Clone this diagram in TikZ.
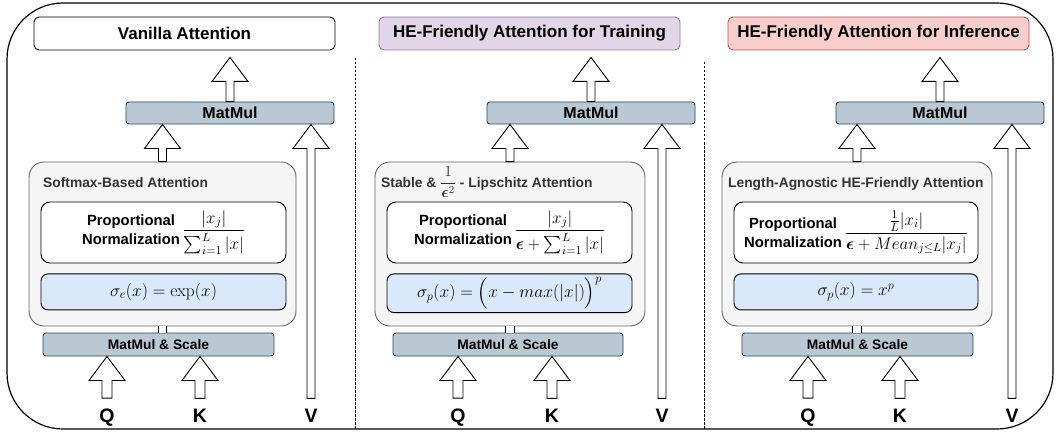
\RequirePackage{fix-cm}
\documentclass[tikz,border=0pt]{standalone}
\usepackage{amsmath,bm}
\usepackage[no-math]{fontspec}
\setmainfont{Liberation Sans}
\usepackage{tikz}
\usetikzlibrary{calc,positioning}

\definecolor{mmfill}{HTML}{BAC8D3}
\definecolor{mmdraw}{HTML}{23445D}
\definecolor{attnfill}{HTML}{F5F5F5}
\definecolor{attndraw}{HTML}{666666}
\definecolor{attntext}{HTML}{333333}
\definecolor{sigfill}{HTML}{DAE8FC}
\definecolor{trainfill}{HTML}{E1D5E7}
\definecolor{traindraw}{HTML}{9673A6}
\definecolor{inffill}{HTML}{F8CECC}
\definecolor{infdraw}{HTML}{B85450}

\tikzset{
  ttl/.style={draw, line width=0.9pt, rounded corners=5pt, minimum width=301, minimum height=33,
    font=\fontsize{17}{20}\selectfont\bfseries},
  mmbox/.style={draw=mmdraw, fill=mmfill, line width=0.9pt, rounded corners=3pt, minimum height=22,
    font=\fontsize{16}{19}\selectfont\bfseries},
  mmsbox/.style={mmbox, minimum height=23, font=\fontsize{13.8}{16}\selectfont\bfseries},
  attnbox/.style={draw=attndraw, fill=attnfill, line width=0.9pt, rounded corners=15pt,
    minimum height=164},
  attnlbl/.style={anchor=base west, inner sep=0, text=attntext, font=\fontsize{13.8}{16}\selectfont\bfseries},
  pnbox/.style={draw, fill=white, line width=0.9pt, rounded corners=9pt, minimum width=245,
    minimum height=61, font=\fontsize{17}{20}\selectfont},
  sigbox/.style={draw, fill=sigfill, line width=0.9pt, rounded corners=7pt, minimum width=245,
    minimum height=36, font=\fontsize{17.5}{20}\selectfont},
  qkv/.style={anchor=base, inner sep=0, font=\fontsize{19.5}{22}\selectfont\bfseries},
  harrow/.style={draw, fill=white, line width=0.9pt, line join=miter},
  shaft/.style={double, double distance=7.5pt, line width=0.8pt},
  sep/.style={line width=0.8pt, dash pattern=on 2.5pt off 1.5pt}
}

% hollow block arrow: [half shaft width]{bottom}{tip}
\newcommand{\hollowarrow}[3][4]{%
  \draw[harrow] let \p1=(#2), \p2=(#3) in
    (\x1-#1pt,\y1) -- (\x1-#1pt,\y2-24pt) -- (\x1-18pt,\y2-24pt) -- (\x1,\y2)
    -- (\x1+18pt,\y2-24pt) -- (\x1+#1pt,\y2-24pt) -- (\x1+#1pt,\y1) -- cycle;}
\newcommand{\pnlabel}{{\fontsize{14.8}{19.5}\selectfont\bfseries
  \begin{tabular}{@{}c@{}}Proportional\\Normalization\end{tabular}}}
\newcommand{\numgap}{\rule[-4pt]{0pt}{4pt}}

\begin{document}
\begin{tikzpicture}[x=1pt,y=1pt]
\useasboundingbox (0,0) rectangle (1057,-433);

% Frame
\draw[line width=1.2pt, rounded corners=56pt] (7,-3) rectangle (1053,-429);
\draw[sep] (355,-58) -- (355,-429);
\draw[sep] (704,-62) -- (704,-429);

% Vanilla
\node[ttl] (ttl1) at (184.5,-33.5) {Vanilla Attention};
\node[mmbox, minimum width=208] (mm1) at (230,-113) {MatMul};
\node[attnbox, minimum width=267] (attn1) at (162.5,-244) {};
\node[attnlbl] (lbl1) at (43,-187) {Softmax-Based Attention};
\node[pnbox] (pn1) at (163.5,-232.5) {\pnlabel\,$\dfrac{|x_j|\numgap}{\sum_{i=1}^{L}|x|}$};
\node[sigbox, below=10pt of pn1] (sig1) {$\sigma_e(x)=\exp(x)$};
\node[mmsbox, minimum width=231] (mms1) at (158.5,-344.5) {MatMul \& Scale};
\node[qkv] (q1) at (107,-422) {Q};
\node[qkv] (k1) at (200,-422) {K};
\node[qkv] (v1) at (311,-422) {V};

\draw[shaft] (attn1.south) -- (attn1.south |- mms1.north);
\hollowarrow{mm1.north}{[yshift=-7pt]ttl1.south}
\hollowarrow{attn1.north}{mm1.south}
\hollowarrow{[yshift=10pt]v1.north}{mm1.south}
\hollowarrow[5]{[yshift=10pt]q1.north}{mms1.south}
\hollowarrow[5]{[yshift=10pt]k1.north}{mms1.south}

% Training
\node[ttl, fill=trainfill, draw=traindraw] (ttl2) at (529.5,-33.5) {HE-Friendly Attention for Training};
\node[mmbox, minimum width=208] (mm2) at (591,-113) {MatMul};
\node[attnbox, minimum width=270] (attn2) at (510,-244) {};
\node[attnlbl] (lbl2) at (381,-187) {Stable \& {\fontsize{15.5}{18}\selectfont$\dfrac{1}{\bm{\epsilon}^2}$} - Lipschitz Attention};
\node[pnbox] (pn2) at (509.5,-232.5) {\pnlabel\,$\dfrac{|x_j|\numgap}{\bm{\epsilon}+\sum_{i=1}^{L}|x|}$};
\node[sigbox, below=10pt of pn2] (sig2) {$\sigma_p(x)=\Big(x-max(|x|)\Big)^p$};
\node[mmsbox, minimum width=230] (mms2) at (508,-344.5) {MatMul \& Scale};
\node[qkv] (q2) at (458,-422) {Q};
\node[qkv] (k2) at (552,-422) {K};
\node[qkv] (v2) at (662,-422) {V};

\draw[shaft] (attn2.south) -- (attn2.south |- mms2.north);
\hollowarrow{mm2.north}{[yshift=-7pt]ttl2.south}
\hollowarrow{attn2.north}{mm2.south}
\hollowarrow{[yshift=10pt]v2.north}{mm2.south}
\hollowarrow[5]{[yshift=10pt]q2.north}{mms2.south}
\hollowarrow[5]{[yshift=10pt]k2.north}{mms2.south}

% Inference
\node[ttl, fill=inffill, draw=infdraw] (ttl3) at (878.5,-33.5) {HE-Friendly Attention for Inference};
\node[mmbox, minimum width=208] (mm3) at (940,-113) {MatMul};
\node[attnbox, minimum width=270] (attn3) at (857,-244) {};
\node[attnlbl] (lbl3) at (728,-187) {Length-Agnostic HE-Friendly Attention};
\node[pnbox, minimum width=244] (pn3) at (856,-232.5) {\pnlabel\,$\dfrac{\frac{1}{L}|x_i|\numgap}{\bm{\epsilon}+Mean_{j\leq L}|x_j|}$};
\node[sigbox, minimum width=244, below=10pt of pn3] (sig3) {$\sigma_p(x)=x^p$};
\node[mmsbox, minimum width=231] (mms3) at (857.5,-344.5) {MatMul \& Scale};
\node[qkv] (q3) at (808,-422) {Q};
\node[qkv] (k3) at (900,-422) {K};
\node[qkv] (v3) at (1012,-422) {V};

\draw[shaft] (attn3.south) -- (attn3.south |- mms3.north);
\hollowarrow{mm3.north}{[yshift=-7pt]ttl3.south}
\hollowarrow{attn3.north}{mm3.south}
\hollowarrow{[yshift=10pt]v3.north}{mm3.south}
\hollowarrow[5]{[yshift=10pt]q3.north}{mms3.south}
\hollowarrow[5]{[yshift=10pt]k3.north}{mms3.south}
\end{tikzpicture}
\end{document}
